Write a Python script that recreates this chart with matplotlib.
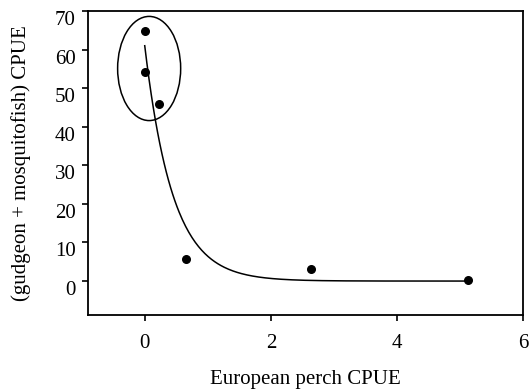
import numpy as np
import matplotlib.pyplot as plt
from matplotlib.patches import Ellipse

plt.rcParams['font.family'] = ['Liberation Serif', 'DejaVu Serif']

# observed catches
perch_cpue = [0.0, 0.0, 0.22, 0.66, 2.63, 5.13]
prey_cpue = [64.8, 54.3, 45.9, 5.6, 3.0, 0.4]

# fitted exponential decay y = a * exp(-b * x), parameters
fit_a = 61.0
fit_b = 2.25
fit_x_max = 5.1

# ellipse around the low-perch sites (centre, width, height in data units)
ell_center = (0.07, 55.1)
ell_width = 1.0
ell_height = 27.0

fig = plt.figure(figsize=(5.32, 3.89), dpi=100)
ax = fig.add_axes([0.1654, 0.1902, 0.8177, 0.7815])

xs = np.linspace(0, fit_x_max, 300)
ax.plot(xs, fit_a * np.exp(-fit_b * xs), color='black', lw=1.1)
ax.scatter(perch_cpue, prey_cpue, s=30, color='black', zorder=3)
ax.add_patch(Ellipse(ell_center, ell_width, ell_height, fill=False,
                     edgecolor='black', lw=1.1))

ax.set_xlim(-0.9, 6)
ax.set_ylim(-8.8, 70)
ax.set_xticks([0, 2, 4, 6])
ax.set_yticks(range(0, 71, 10))

for s in ax.spines.values():
    s.set_linewidth(1.3)
ax.tick_params(axis='both', direction='out', length=4, width=1.2, labelsize=15)
ax.tick_params(axis='x', pad=10)
ax.tick_params(axis='y', pad=5)
for lbl in ax.get_yticklabels():
    lbl.set_va('top')

ax.set_xlabel('European perch CPUE', fontsize=15, labelpad=12)
ax.set_ylabel('(gudgeon + mosquitofish) CPUE', fontsize=15, labelpad=17)

fig.savefig('out.png', dpi=100)
